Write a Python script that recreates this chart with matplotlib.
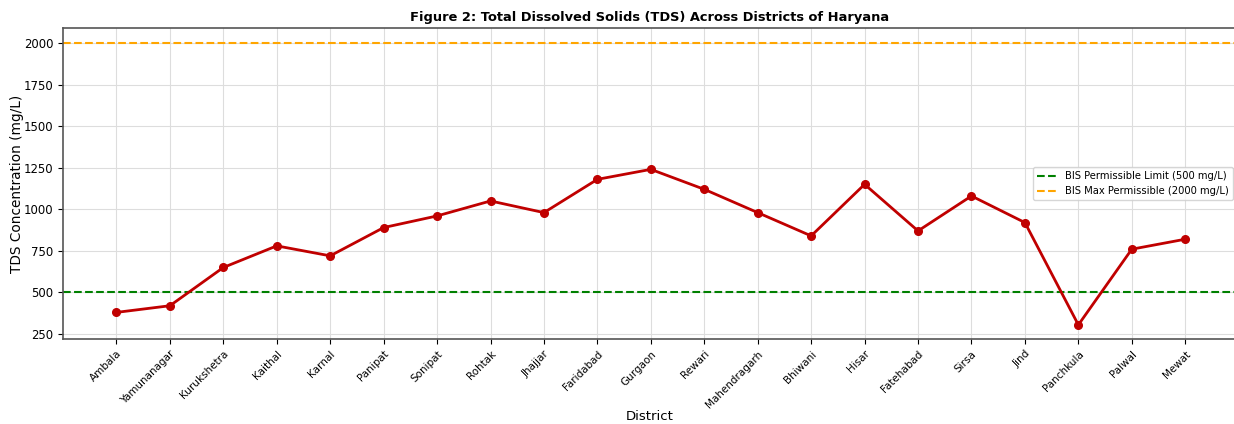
import matplotlib
matplotlib.use('Agg')
import matplotlib.pyplot as plt

# District-wise TDS values (mg/L)
districts = ['Ambala', 'Yamunanagar', 'Kurukshetra', 'Kaithal', 'Karnal', 'Panipat',
             'Sonipat', 'Rohtak', 'Jhajjar', 'Faridabad', 'Gurgaon', 'Rewari',
             'Mahendragarh', 'Bhiwani', 'Hisar', 'Fatehabad', 'Sirsa', 'Jind',
             'Panchkula', 'Palwal', 'Mewat']
tds = [380, 420, 650, 780, 720, 890, 960, 1050, 980, 1180, 1240, 1120,
       980, 840, 1150, 870, 1080, 920, 305, 760, 820]
bis_limit = 500
bis_max = 2000

fig = plt.figure(figsize=(12.34, 4.24), dpi=100)
ax = fig.add_axes([63 / 1234, 1 - 339 / 424, (1236 - 63) / 1234, (339 - 28) / 424])

x = list(range(len(districts)))
ax.plot(x, tds, '-o', color='#c00000', linewidth=2, markersize=5.5, zorder=3)
ax.axhline(bis_limit, color='green', linestyle='--', linewidth=1.5,
           label='BIS Permissible Limit (500 mg/L)')
ax.axhline(bis_max, color='orange', linestyle='--', linewidth=1.5,
           label='BIS Max Permissible (2000 mg/L)')

ax.set_xticks(x)
ax.set_xticklabels(districts, rotation=45, ha='right', fontsize=7.5, rotation_mode='anchor')
ax.set_yticks([250, 500, 750, 1000, 1250, 1500, 1750, 2000])
ax.tick_params(axis='y', labelsize=8.4)
ax.set_xlim(-1, 20.95)
ax.set_ylim(220, 2090)
ax.grid(True, color='#dddddd', linewidth=0.8)
ax.set_axisbelow(True)
for s in ax.spines.values():
    s.set_color('#555555')
    s.set_linewidth(1.2)

ax.set_title('Figure 2: Total Dissolved Solids (TDS) Across Districts of Haryana',
             fontsize=9.4, fontweight='bold', pad=5)
ax.set_xlabel('District', fontsize=9.5, va='center')
ax.xaxis.set_label_coords(0.5, -(416 - 339) / 311)
ax.set_ylabel('TDS Concentration (mg/L)', fontsize=9.8)
ax.yaxis.set_label_coords(-(63 - 24) / 1173, 0.5)
ax.legend(loc='center right', fontsize=7.2, bbox_to_anchor=(1.0, 0.5),
          borderaxespad=0.3)

fig.savefig('out.png', dpi=100)
